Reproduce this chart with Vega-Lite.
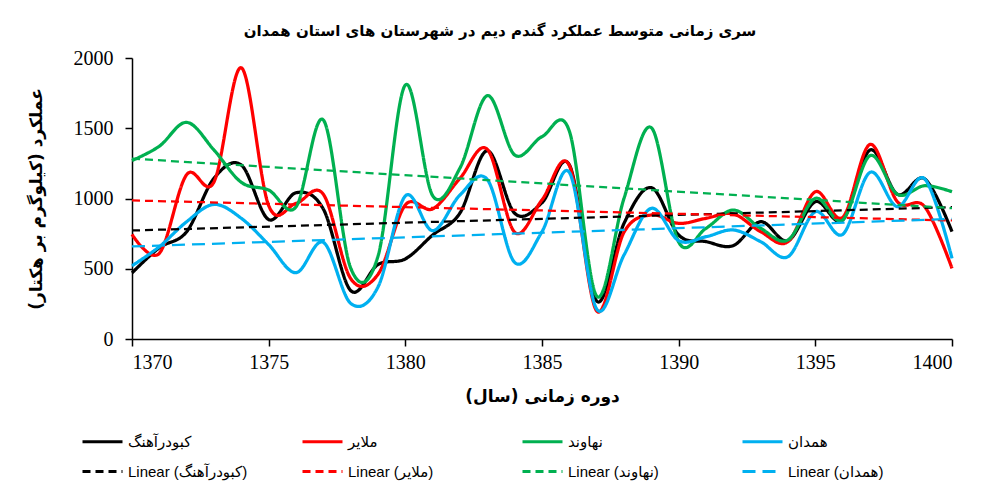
{
  "$schema": "https://vega.github.io/schema/vega-lite/v6.json",
  "autosize": {"type": "none"},
  "width": 820,
  "height": 281,
  "padding": {"left": 132, "top": 58, "right": 29, "bottom": 153},
  "background": "white",
  "title": {
    "text": "سری زمانی متوسط عملکرد گندم دیم در شهرستان های استان همدان",
    "font": "DejaVu Sans",
    "fontSize": 15,
    "fontWeight": "bold",
    "color": "black",
    "anchor": "middle",
    "dx": -42,
    "offset": 9
  },
  "data": {
    "values": [
      {"year": 1370, "s": "کبودرآهنگ", "t": "Linear (کبودرآهنگ)", "value": 470},
      {"year": 1371, "s": "کبودرآهنگ", "t": "Linear (کبودرآهنگ)", "value": 650},
      {"year": 1372, "s": "کبودرآهنگ", "t": "Linear (کبودرآهنگ)", "value": 764},
      {"year": 1373, "s": "کبودرآهنگ", "t": "Linear (کبودرآهنگ)", "value": 1144},
      {"year": 1374, "s": "کبودرآهنگ", "t": "Linear (کبودرآهنگ)", "value": 1238},
      {"year": 1375, "s": "کبودرآهنگ", "t": "Linear (کبودرآهنگ)", "value": 850},
      {"year": 1376, "s": "کبودرآهنگ", "t": "Linear (کبودرآهنگ)", "value": 1041},
      {"year": 1377, "s": "کبودرآهنگ", "t": "Linear (کبودرآهنگ)", "value": 925},
      {"year": 1378, "s": "کبودرآهنگ", "t": "Linear (کبودرآهنگ)", "value": 345},
      {"year": 1379, "s": "کبودرآهنگ", "t": "Linear (کبودرآهنگ)", "value": 530},
      {"year": 1380, "s": "کبودرآهنگ", "t": "Linear (کبودرآهنگ)", "value": 570},
      {"year": 1381, "s": "کبودرآهنگ", "t": "Linear (کبودرآهنگ)", "value": 740},
      {"year": 1382, "s": "کبودرآهنگ", "t": "Linear (کبودرآهنگ)", "value": 897},
      {"year": 1383, "s": "کبودرآهنگ", "t": "Linear (کبودرآهنگ)", "value": 1340},
      {"year": 1384, "s": "کبودرآهنگ", "t": "Linear (کبودرآهنگ)", "value": 895},
      {"year": 1385, "s": "کبودرآهنگ", "t": "Linear (کبودرآهنگ)", "value": 970},
      {"year": 1386, "s": "کبودرآهنگ", "t": "Linear (کبودرآهنگ)", "value": 1240},
      {"year": 1387, "s": "کبودرآهنگ", "t": "Linear (کبودرآهنگ)", "value": 270},
      {"year": 1388, "s": "کبودرآهنگ", "t": "Linear (کبودرآهنگ)", "value": 823},
      {"year": 1389, "s": "کبودرآهنگ", "t": "Linear (کبودرآهنگ)", "value": 1077},
      {"year": 1390, "s": "کبودرآهنگ", "t": "Linear (کبودرآهنگ)", "value": 740},
      {"year": 1391, "s": "کبودرآهنگ", "t": "Linear (کبودرآهنگ)", "value": 693},
      {"year": 1392, "s": "کبودرآهنگ", "t": "Linear (کبودرآهنگ)", "value": 665},
      {"year": 1393, "s": "کبودرآهنگ", "t": "Linear (کبودرآهنگ)", "value": 835},
      {"year": 1394, "s": "کبودرآهنگ", "t": "Linear (کبودرآهنگ)", "value": 700},
      {"year": 1395, "s": "کبودرآهنگ", "t": "Linear (کبودرآهنگ)", "value": 977},
      {"year": 1396, "s": "کبودرآهنگ", "t": "Linear (کبودرآهنگ)", "value": 847},
      {"year": 1397, "s": "کبودرآهنگ", "t": "Linear (کبودرآهنگ)", "value": 1345},
      {"year": 1398, "s": "کبودرآهنگ", "t": "Linear (کبودرآهنگ)", "value": 1030},
      {"year": 1399, "s": "کبودرآهنگ", "t": "Linear (کبودرآهنگ)", "value": 1140},
      {"year": 1400, "s": "کبودرآهنگ", "t": "Linear (کبودرآهنگ)", "value": 764},

      {"year": 1370, "s": "ملایر", "t": "Linear (ملایر)", "value": 745},
      {"year": 1371, "s": "ملایر", "t": "Linear (ملایر)", "value": 610},
      {"year": 1372, "s": "ملایر", "t": "Linear (ملایر)", "value": 1170},
      {"year": 1373, "s": "ملایر", "t": "Linear (ملایر)", "value": 1118},
      {"year": 1374, "s": "ملایر", "t": "Linear (ملایر)", "value": 1930},
      {"year": 1375, "s": "ملایر", "t": "Linear (ملایر)", "value": 950},
      {"year": 1376, "s": "ملایر", "t": "Linear (ملایر)", "value": 965},
      {"year": 1377, "s": "ملایر", "t": "Linear (ملایر)", "value": 1030},
      {"year": 1378, "s": "ملایر", "t": "Linear (ملایر)", "value": 430},
      {"year": 1379, "s": "ملایر", "t": "Linear (ملایر)", "value": 460},
      {"year": 1380, "s": "ملایر", "t": "Linear (ملایر)", "value": 954},
      {"year": 1381, "s": "ملایر", "t": "Linear (ملایر)", "value": 926},
      {"year": 1382, "s": "ملایر", "t": "Linear (ملایر)", "value": 1144},
      {"year": 1383, "s": "ملایر", "t": "Linear (ملایر)", "value": 1350},
      {"year": 1384, "s": "ملایر", "t": "Linear (ملایر)", "value": 760},
      {"year": 1385, "s": "ملایر", "t": "Linear (ملایر)", "value": 990},
      {"year": 1386, "s": "ملایر", "t": "Linear (ملایر)", "value": 1235},
      {"year": 1387, "s": "ملایر", "t": "Linear (ملایر)", "value": 200},
      {"year": 1388, "s": "ملایر", "t": "Linear (ملایر)", "value": 760},
      {"year": 1389, "s": "ملایر", "t": "Linear (ملایر)", "value": 883},
      {"year": 1390, "s": "ملایر", "t": "Linear (ملایر)", "value": 823},
      {"year": 1391, "s": "ملایر", "t": "Linear (ملایر)", "value": 859},
      {"year": 1392, "s": "ملایر", "t": "Linear (ملایر)", "value": 890},
      {"year": 1393, "s": "ملایر", "t": "Linear (ملایر)", "value": 764},
      {"year": 1394, "s": "ملایر", "t": "Linear (ملایر)", "value": 693},
      {"year": 1395, "s": "ملایر", "t": "Linear (ملایر)", "value": 1048},
      {"year": 1396, "s": "ملایر", "t": "Linear (ملایر)", "value": 865},
      {"year": 1397, "s": "ملایر", "t": "Linear (ملایر)", "value": 1385},
      {"year": 1398, "s": "ملایر", "t": "Linear (ملایر)", "value": 977},
      {"year": 1399, "s": "ملایر", "t": "Linear (ملایر)", "value": 942},
      {"year": 1400, "s": "ملایر", "t": "Linear (ملایر)", "value": 503},

      {"year": 1370, "s": "نهاوند", "t": "Linear (نهاوند)", "value": 1270},
      {"year": 1371, "s": "نهاوند", "t": "Linear (نهاوند)", "value": 1372},
      {"year": 1372, "s": "نهاوند", "t": "Linear (نهاوند)", "value": 1542},
      {"year": 1373, "s": "نهاوند", "t": "Linear (نهاوند)", "value": 1345},
      {"year": 1374, "s": "نهاوند", "t": "Linear (نهاوند)", "value": 1115},
      {"year": 1375, "s": "نهاوند", "t": "Linear (نهاوند)", "value": 1060},
      {"year": 1376, "s": "نهاوند", "t": "Linear (نهاوند)", "value": 940},
      {"year": 1377, "s": "نهاوند", "t": "Linear (نهاوند)", "value": 1559},
      {"year": 1378, "s": "نهاوند", "t": "Linear (نهاوند)", "value": 505},
      {"year": 1379, "s": "نهاوند", "t": "Linear (نهاوند)", "value": 590},
      {"year": 1380, "s": "نهاوند", "t": "Linear (نهاوند)", "value": 1808},
      {"year": 1381, "s": "نهاوند", "t": "Linear (نهاوند)", "value": 1020},
      {"year": 1382, "s": "نهاوند", "t": "Linear (نهاوند)", "value": 1217},
      {"year": 1383, "s": "نهاوند", "t": "Linear (نهاوند)", "value": 1732},
      {"year": 1384, "s": "نهاوند", "t": "Linear (نهاوند)", "value": 1310},
      {"year": 1385, "s": "نهاوند", "t": "Linear (نهاوند)", "value": 1440},
      {"year": 1386, "s": "نهاوند", "t": "Linear (نهاوند)", "value": 1480},
      {"year": 1387, "s": "نهاوند", "t": "Linear (نهاوند)", "value": 305},
      {"year": 1388, "s": "نهاوند", "t": "Linear (نهاوند)", "value": 1001},
      {"year": 1389, "s": "نهاوند", "t": "Linear (نهاوند)", "value": 1504},
      {"year": 1390, "s": "نهاوند", "t": "Linear (نهاوند)", "value": 690},
      {"year": 1391, "s": "نهاوند", "t": "Linear (نهاوند)", "value": 788},
      {"year": 1392, "s": "نهاوند", "t": "Linear (نهاوند)", "value": 918},
      {"year": 1393, "s": "نهاوند", "t": "Linear (نهاوند)", "value": 788},
      {"year": 1394, "s": "نهاوند", "t": "Linear (نهاوند)", "value": 705},
      {"year": 1395, "s": "نهاوند", "t": "Linear (نهاوند)", "value": 1001},
      {"year": 1396, "s": "نهاوند", "t": "Linear (نهاوند)", "value": 847},
      {"year": 1397, "s": "نهاوند", "t": "Linear (نهاوند)", "value": 1305},
      {"year": 1398, "s": "نهاوند", "t": "Linear (نهاوند)", "value": 1030},
      {"year": 1399, "s": "نهاوند", "t": "Linear (نهاوند)", "value": 1091},
      {"year": 1400, "s": "نهاوند", "t": "Linear (نهاوند)", "value": 1048},

      {"year": 1370, "s": "همدان", "t": "Linear (همدان)", "value": 521},
      {"year": 1371, "s": "همدان", "t": "Linear (همدان)", "value": 657},
      {"year": 1372, "s": "همدان", "t": "Linear (همدان)", "value": 835},
      {"year": 1373, "s": "همدان", "t": "Linear (همدان)", "value": 958},
      {"year": 1374, "s": "همدان", "t": "Linear (همدان)", "value": 859},
      {"year": 1375, "s": "همدان", "t": "Linear (همدان)", "value": 672},
      {"year": 1376, "s": "همدان", "t": "Linear (همدان)", "value": 472},
      {"year": 1377, "s": "همدان", "t": "Linear (همدان)", "value": 688},
      {"year": 1378, "s": "همدان", "t": "Linear (همدان)", "value": 254},
      {"year": 1379, "s": "همدان", "t": "Linear (همدان)", "value": 370},
      {"year": 1380, "s": "همدان", "t": "Linear (همدان)", "value": 1018},
      {"year": 1381, "s": "همدان", "t": "Linear (همدان)", "value": 771},
      {"year": 1382, "s": "همدان", "t": "Linear (همدان)", "value": 1025},
      {"year": 1383, "s": "همدان", "t": "Linear (همدان)", "value": 1135},
      {"year": 1384, "s": "همدان", "t": "Linear (همدان)", "value": 545},
      {"year": 1385, "s": "همدان", "t": "Linear (همدان)", "value": 764},
      {"year": 1386, "s": "همدان", "t": "Linear (همدان)", "value": 1186},
      {"year": 1387, "s": "همدان", "t": "Linear (همدان)", "value": 213},
      {"year": 1388, "s": "همدان", "t": "Linear (همدان)", "value": 598},
      {"year": 1389, "s": "همدان", "t": "Linear (همدان)", "value": 930},
      {"year": 1390, "s": "همدان", "t": "Linear (همدان)", "value": 700},
      {"year": 1391, "s": "همدان", "t": "Linear (همدان)", "value": 728},
      {"year": 1392, "s": "همدان", "t": "Linear (همدان)", "value": 776},
      {"year": 1393, "s": "همدان", "t": "Linear (همدان)", "value": 693},
      {"year": 1394, "s": "همدان", "t": "Linear (همدان)", "value": 586},
      {"year": 1395, "s": "همدان", "t": "Linear (همدان)", "value": 906},
      {"year": 1396, "s": "همدان", "t": "Linear (همدان)", "value": 745},
      {"year": 1397, "s": "همدان", "t": "Linear (همدان)", "value": 1186},
      {"year": 1398, "s": "همدان", "t": "Linear (همدان)", "value": 942},
      {"year": 1399, "s": "همدان", "t": "Linear (همدان)", "value": 1140},
      {"year": 1400, "s": "همدان", "t": "Linear (همدان)", "value": 574}
    ]
  },
  "encoding": {
    "x": {
      "field": "year",
      "type": "quantitative",
      "scale": {"domain": [1370, 1400], "nice": false, "zero": false},
      "axis": {
        "title": "دوره زمانی (سال)",
        "values": [1370, 1375, 1380, 1385, 1390, 1395, 1400],
        "format": "d",
        "grid": false,
        "tickSize": 7,
        "labelPadding": 6,
        "titlePadding": 16
      }
    },
    "y": {
      "field": "value",
      "type": "quantitative",
      "scale": {"domain": [0, 2000], "nice": false},
      "axis": {
        "title": "عملکرد (کیلوگرم بر هکتار)",
        "values": [0, 500, 1000, 1500, 2000],
        "format": "d",
        "grid": false,
        "tickSize": 7,
        "labelPadding": 12,
        "titlePadding": 28
      }
    }
  },
  "layer": [
    {
      "mark": {"type": "line", "interpolate": "cardinal", "strokeWidth": 3.25},
      "encoding": {
        "color": {
          "field": "s",
          "type": "nominal",
          "scale": {
            "domain": ["کبودرآهنگ", "ملایر", "نهاوند", "همدان", "Linear (کبودرآهنگ)", "Linear (ملایر)", "Linear (نهاوند)", "Linear (همدان)"],
            "range": ["#000000", "#FF0000", "#00B050", "#00B0F0", "#000000", "#FF0000", "#00B050", "#00B0F0"]
          },
          "legend": {"title": null, "orient": "none", "legendX": -51, "legendY": 362}
        },
        "strokeDash": {
          "field": "s",
          "type": "nominal",
          "scale": {
            "domain": ["کبودرآهنگ", "ملایر", "نهاوند", "همدان", "Linear (کبودرآهنگ)", "Linear (ملایر)", "Linear (نهاوند)", "Linear (همدان)"],
            "range": [[1, 0], [1, 0], [1, 0], [1, 0], [8, 5], [8, 5], [8, 5], [13, 7]]
          },
          "legend": {"title": null, "orient": "none", "legendX": -51, "legendY": 362}
        }
      }
    },
    {
      "transform": [
        {"regression": "value", "on": "year", "groupby": ["t"], "extent": [1370, 1400]}
      ],
      "mark": {"type": "line", "strokeWidth": 2.25},
      "encoding": {
        "color": {"field": "t", "type": "nominal", "legend": {"title": null, "orient": "none", "legendX": -51, "legendY": 362}},
        "strokeDash": {"field": "t", "type": "nominal", "legend": {"title": null, "orient": "none", "legendX": -51, "legendY": 362}}
      }
    }
  ],
  "config": {
    "view": {"stroke": null},
    "axis": {
      "labelFont": "Liberation Serif",
      "labelFontSize": 20,
      "labelColor": "black",
      "titleFont": "DejaVu Sans",
      "titleFontSize": 17,
      "titleFontWeight": "bold",
      "titleColor": "black",
      "domainColor": "black",
      "domainWidth": 1.5,
      "tickColor": "black",
      "tickWidth": 1.5
    },
    "legend": {
      "direction": "horizontal",
      "columns": 4,
      "gridAlign": "all",
      "columnPadding": 48,
      "rowPadding": -5,
      "symbolType": "stroke",
      "symbolSize": 1600,
      "symbolStrokeWidth": 3,
      "labelFont": "Liberation Sans, DejaVu Sans",
      "labelFontSize": 15,
      "labelColor": "black",
      "labelLimit": 300
    }
  }
}
